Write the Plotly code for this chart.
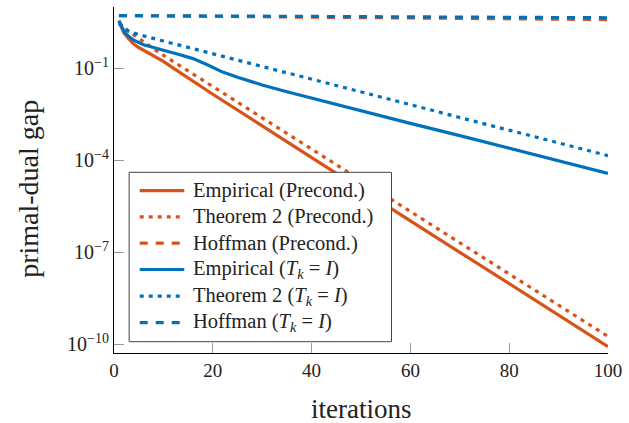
import plotly.graph_objects as go

# ---- data ----
it_emp_pre = [1, 2, 3, 4, 5, 6, 8, 10, 12, 15, 20, 30, 40, 50, 60, 70, 80, 90, 100]
gap_emp_pre = [3.31, 1.41, 0.891, 0.603, 0.468, 0.380, 0.263, 0.166, 0.100, 0.0479, 0.0141,
               1.32e-3, 1.20e-4, 1.12e-5, 1.05e-6, 1.0e-7, 9.55e-9, 8.91e-10, 8.51e-11]

it_thm_pre = [1, 2, 3, 4, 6, 9, 12, 20, 30, 40, 50, 60, 70, 80, 90, 100]
gap_thm_pre = [3.02, 2.09, 1.58, 1.20, 0.724, 0.331, 0.166, 0.0251, 2.40e-3, 2.29e-4,
               2.24e-5, 2.14e-6, 2.04e-7, 1.95e-8, 1.91e-9, 1.82e-10]

it_hof_pre = [1, 100]
gap_hof_pre = [5.13, 3.80]

it_emp_id = [1, 2, 3, 4, 6, 8, 10, 13, 16, 19, 22, 25, 30, 35, 40, 50, 60, 70, 80, 90, 100]
gap_emp_id = [3.55, 1.58, 1.07, 0.813, 0.575, 0.457, 0.380, 0.282, 0.204, 0.126, 0.0741,
              0.0501, 0.0282, 0.0170, 0.0105, 4.17e-3, 1.58e-3, 6.31e-4, 2.45e-4, 9.55e-5, 3.72e-5]

it_thm_id = [1, 2, 3, 5, 10, 20, 30, 40, 50, 60, 70, 80, 90, 100]
gap_thm_id = [2.82, 2.0, 1.58, 1.23, 0.759, 0.295, 0.112, 0.0437, 0.0166, 6.46e-3,
              2.45e-3, 9.55e-4, 3.63e-4, 1.41e-4]

it_hof_id = [1, 100]
gap_hof_id = [5.13, 4.37]

x_ticks = [0, 20, 40, 60, 80, 100]
y_ticks = [1e-10, 1e-7, 1e-4, 1e-1]
y_ticktext = ["10<sup>−10</sup>", "10<sup>−7</sup>", "10<sup>−4</sup>", "10<sup>−1</sup>"]

series_names = [
    "Empirical (Precond.)",
    "Theorem 2 (Precond.)",
    "Hoffman (Precond.)",
    "Empirical (<i>T<sub>k</sub></i> = <i>I</i>)",
    "Theorem 2 (<i>T<sub>k</sub></i> = <i>I</i>)",
    "Hoffman (<i>T<sub>k</sub></i> = <i>I</i>)",
]

ORANGE = "#D95319"
BLUE = "#0072BD"
FONT = "Liberation Serif, serif"
DOT = "4px,5px"
DASH = "8px,8px"

series = [
    (it_emp_pre, gap_emp_pre, ORANGE, "solid"),
    (it_thm_pre, gap_thm_pre, ORANGE, DOT),
    (it_hof_pre, gap_hof_pre, ORANGE, DASH),
    (it_emp_id, gap_emp_id, BLUE, "solid"),
    (it_thm_id, gap_thm_id, BLUE, DOT),
    (it_hof_id, gap_hof_id, BLUE, DASH),
]

fig = go.Figure()
for (x, y, col, dash), name in zip(series, series_names):
    fig.add_trace(go.Scatter(x=x, y=y, mode="lines", name=name, showlegend=False,
                             line=dict(color=col, width=3.2, dash=dash)))

# ---- legend box drawn in paper coordinates ----
L, W, B, H = 114, 499, 353, 346   # plot-area pixel geometry (left, width, bottom, height)
px = lambda v: (v - L) / W
py = lambda v: (B - v) / H

shapes = [dict(type="rect", xref="paper", yref="paper", layer="above",
               x0=px(129.3), x1=px(394.3), y0=py(341.7), y1=py(172.3),
               fillcolor="white", line=dict(color="#444", width=1))]
annotations = []
row_y = [190.7, 216.9, 243.1, 269.5, 296.1, 322.7]
for (x, y, col, dash), name, ry in zip(series, series_names, row_y):
    shapes.append(dict(type="line", xref="paper", yref="paper", layer="above",
                       x0=px(140), x1=px(185), y0=py(ry), y1=py(ry),
                       line=dict(color=col, width=3.2, dash=dash)))
    annotations.append(dict(text=name, xref="paper", yref="paper", x=px(192),
                            y=py(ry), xanchor="left", yanchor="middle", showarrow=False,
                            font=dict(family=FONT, size=20.5, color="#222")))

annotations += [
    dict(text="iterations", xref="paper", yref="paper", x=0.5, y=py(409),
         xanchor="center", yanchor="middle", showarrow=False,
         font=dict(family=FONT, size=27, color="#222")),
    dict(text="primal-dual gap", xref="paper", yref="paper", x=px(27), y=py(189),
         xanchor="center", yanchor="middle", showarrow=False, textangle=-90,
         font=dict(family=FONT, size=28, color="#222")),
]

fig.update_layout(
    width=629, height=423,
    margin=dict(l=114, r=16, t=7, b=70),
    plot_bgcolor="white", paper_bgcolor="white",
    font=dict(family=FONT, size=19, color="#222"),
    showlegend=False,
    xaxis=dict(range=[0, 100], tickvals=x_ticks, showline=True, linecolor="black",
               linewidth=1.2, ticks="inside", ticklen=10, tickcolor="#999",
               showgrid=False, zeroline=False, tickfont=dict(family=FONT, size=19)),
    yaxis=dict(type="log", range=[-10.28, 0.99], tickvals=y_ticks, ticktext=y_ticktext,
               showline=True, linecolor="black", linewidth=1.2, ticks="inside",
               ticklen=10, tickcolor="#999", showgrid=False, zeroline=False,
               tickfont=dict(family=FONT, size=20)),
    shapes=shapes,
    annotations=annotations,
)

fig.write_html("out.html", config={"displayModeBar": False},
               post_script="document.body.style.margin='0';")
